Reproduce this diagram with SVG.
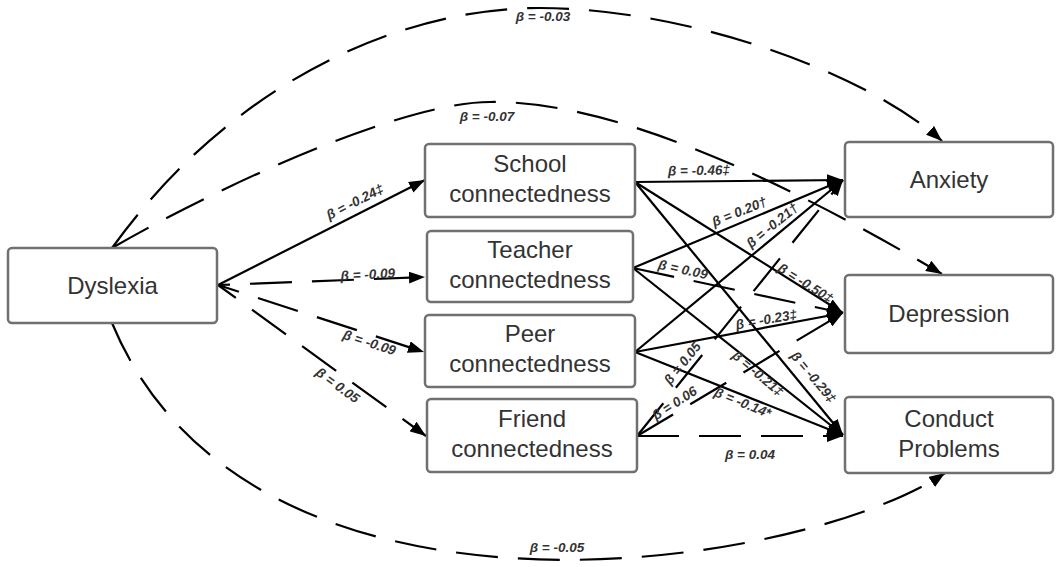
<svg xmlns="http://www.w3.org/2000/svg" width="1060" height="567" viewBox="0 0 1060 567">
<defs>
<marker id="arr" markerUnits="userSpaceOnUse" markerWidth="17" markerHeight="12" refX="16" refY="6" orient="auto">
<path d="M0,0 L16,6 L0,12 z" fill="#000"/>
</marker>
<style>
.node rect{fill:#fff;stroke:#707070;stroke-width:2.5}
.node text{font-family:"Liberation Sans",Arial,sans-serif;font-size:24px;fill:#333;text-anchor:middle}
.c{fill:none;stroke:#000;stroke-width:2.2;marker-end:url(#arr)}
.d{stroke-dasharray:42 20}
.lbl{font-family:"Liberation Sans",Arial,sans-serif;font-size:13.5px;font-weight:bold;font-style:italic;fill:#333;text-anchor:middle}
</style>
</defs>
<rect width="1060" height="567" fill="#fff"/>
<g id="connectors">
<path class="c d" d="M112,248 C232,82 400,8 540,8 C680,8 860,68 942,141"/>
<path class="c d" d="M112,248 C212,190 400,102 490,102 C620,100 800,190 942,274"/>
<path class="c d" d="M112,323 C250,655 800,570 945,473"/>
<path class="c" d="M218,285 L425,180"/>
<path class="c d" d="M218,285 L425,277" style="stroke-dashoffset:30"/>
<path class="c d" d="M218,285 L424,352" style="stroke-dashoffset:20"/>
<path class="c d" d="M218,285 L426,436" style="stroke-dashoffset:20"/>
<path class="c" d="M635,182 L843,180"/>
<path class="c" d="M635,182 L843,313"/>
<path class="c" d="M635,182 L843,435"/>
<path class="c" d="M633,268 L843,180"/>
<path class="c d" d="M633,268 L843,313"/>
<path class="c" d="M633,268 L843,435"/>
<path class="c" d="M635,352 L843,180"/>
<path class="c" d="M635,352 L843,313"/>
<path class="c" d="M635,352 L843,435"/>
<path class="c d" d="M637,436 L843,180"/>
<path class="c d" d="M637,436 L843,313"/>
<path class="c d" d="M637,436 L843,436"/>
<text class="lbl" transform="translate(543,21)">β = -0.03</text>
<text class="lbl" transform="translate(487,121)">β = -0.07</text>
<text class="lbl" transform="translate(357,206) rotate(-27)">β = -0.24‡</text>
<text class="lbl" transform="translate(368,279) rotate(-3)">β = -0.09</text>
<text class="lbl" transform="translate(368,347) rotate(18)">β = -0.09</text>
<text class="lbl" transform="translate(335,389) rotate(36)">β = 0.05</text>
<text class="lbl" transform="translate(699,175) rotate(-1)">β = -0.46‡</text>
<text class="lbl" transform="translate(741,216) rotate(-22)">β = 0.20†</text>
<text class="lbl" transform="translate(775,229) rotate(-39)">β = -0.21†</text>
<text class="lbl" transform="translate(682,274) rotate(12)">β = 0.09</text>
<text class="lbl" transform="translate(803,287) rotate(32)">β = -0.50‡</text>
<text class="lbl" transform="translate(767,324) rotate(-10)">β = -0.23‡</text>
<text class="lbl" transform="translate(686,366) rotate(-51)">β = 0.05</text>
<text class="lbl" transform="translate(677,407) rotate(-33)">β = 0.06</text>
<text class="lbl" transform="translate(755,377) rotate(40)">β = -0.21‡</text>
<text class="lbl" transform="translate(810,380) rotate(50)">β = -0.29‡</text>
<text class="lbl" transform="translate(741,407) rotate(22)">β = -0.14*</text>
<text class="lbl" transform="translate(750,459)">β = 0.04</text>
<text class="lbl" transform="translate(557,552)">β = -0.05</text>
</g>
<g id="dyslexia" class="node"><rect x="8" y="248" width="209" height="75" rx="4"/><text x="112.5" y="294">Dyslexia</text></g>
<g id="school" class="node"><rect x="425" y="144" width="210" height="73" rx="4"/><text x="530" y="172">School</text><text x="530" y="202">connectedness</text></g>
<g id="teacher" class="node"><rect x="427" y="231" width="206" height="71" rx="4"/><text x="530" y="258">Teacher</text><text x="530" y="288">connectedness</text></g>
<g id="peer" class="node"><rect x="425" y="315" width="210" height="72" rx="4"/><text x="530" y="342">Peer</text><text x="530" y="372">connectedness</text></g>
<g id="friend" class="node"><rect x="427" y="399" width="210" height="73" rx="4"/><text x="532" y="427">Friend</text><text x="532" y="457">connectedness</text></g>
<g id="anxiety" class="node"><rect x="845" y="142" width="208" height="75" rx="4"/><text x="949" y="188">Anxiety</text></g>
<g id="depression" class="node"><rect x="845" y="275" width="208" height="78" rx="4"/><text x="949" y="322">Depression</text></g>
<g id="conduct" class="node"><rect x="845" y="397" width="208" height="76" rx="4"/><text x="949" y="427">Conduct</text><text x="949" y="457">Problems</text></g>
</svg>
